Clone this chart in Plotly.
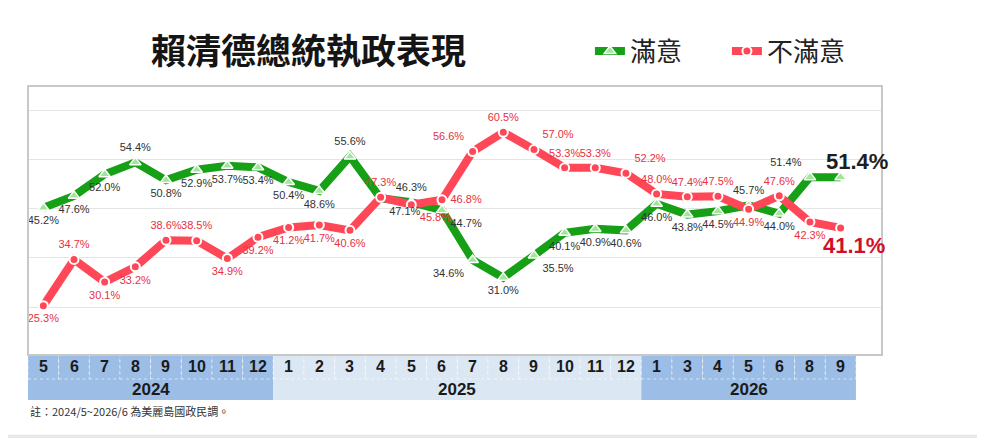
import itertools
import plotly.graph_objects as go

# ---------------- data ----------------
years = ["2024"] * 8 + ["2025"] * 12 + ["2026"] * 7
months = [5, 6, 7, 8, 9, 10, 11, 12,
          1, 2, 3, 4, 5, 6, 7, 8, 9, 10, 11, 12,
          1, 3, 4, 5, 6, 8, 9]
satisfied = [45.2, 47.6, 52.0, 54.4, 50.8, 52.9, 53.7, 53.4,
             50.4, 48.6, 55.6, 47.1, 46.3, 44.7, 34.6, 31.0, 35.5, 40.1, 40.9, 40.6,
             46.0, 43.8, 44.5, 45.7, 44.0, 51.4, 51.4]
dissatisfied = [25.3, 34.7, 30.1, 33.2, 38.6, 38.5, 34.9, 39.2,
                41.2, 41.7, 40.6, 47.3, 45.8, 46.8, 56.6, 60.5, 57.0, 53.3, 53.3, 52.2,
                48.0, 47.4, 47.5, 44.9, 47.6, 42.3, 41.1]
series_names = ["滿意", "不滿意"]
title_text = "賴清德總統執政表現"
footnote = "註：2024/5~2026/6 為美麗島國政民調。"

# ---------------- style ----------------
sat_pos = ["bottom center", "bottom center", "bottom center", "top center", "bottom center",
           "bottom center", "bottom center", "bottom center", "bottom center", "bottom center",
           "top center", "bottom right", "top center", "bottom right", "bottom left",
           "bottom center", "bottom right", "bottom center", "bottom center", "bottom center",
           "bottom center", "bottom center", "bottom center", "top center", "bottom center",
           "top left", "top right"]
dis_pos = ["bottom center", "top center", "bottom center", "bottom center", "top center",
           "top center", "bottom center", "bottom center", "bottom center", "bottom center",
           "bottom center", "top center", "bottom right", "middle right", "top left",
           "top center", "top right", "top center", "top center", "top right",
           "top center", "top center", "top center", "bottom center", "top center",
           "bottom center", "bottom right"]

GREEN = "#16a016"
RED = "#ff4757"
LABEL_FONT = "Liberation Sans Narrow, Arial Narrow, Liberation Sans, sans-serif"
CJK = "Noto Sans CJK TC, Noto Sans CJK SC, sans-serif"

n = len(months)
x = list(range(n))
last = n - 1


def labels(vals):
    # last point gets a big separate annotation
    return [f"{v:.1f}%" if i != last else "" for i, v in enumerate(vals)]


fig = go.Figure()
fig.add_trace(go.Scatter(
    x=x, y=satisfied, name=series_names[0], mode="lines+markers",
    line=dict(color=GREEN, width=8),
    marker=dict(symbol="triangle-up", size=10, color="#9fe59a",
                line=dict(color="white", width=1.5)),
    cliponaxis=False,
))
fig.add_trace(go.Scatter(
    x=x, y=dissatisfied, name=series_names[1], mode="lines+markers",
    line=dict(color=RED, width=8),
    marker=dict(symbol="circle", size=9, color=RED,
                line=dict(color="white", width=2)),
    cliponaxis=False,
))
# label layers on top of both lines (invisible markers give the text its offset)
fig.add_trace(go.Scatter(
    x=x, y=satisfied, mode="markers+text", showlegend=False, hoverinfo="skip",
    text=labels(satisfied), textposition=sat_pos,
    textfont=dict(family=LABEL_FONT, size=11, color="#333333"),
    marker=dict(size=12, color="rgba(0,0,0,0)"), cliponaxis=False,
))
fig.add_trace(go.Scatter(
    x=x, y=dissatisfied, mode="markers+text", showlegend=False, hoverinfo="skip",
    text=labels(dissatisfied), textposition=dis_pos,
    textfont=dict(family=LABEL_FONT, size=11, color="#e8303f"),
    marker=dict(size=12, color="rgba(0,0,0,0)"), cliponaxis=False,
))

# ---------------- table under the axis ----------------
Y_DOMAIN_BOTTOM = 0.1433
ROW_SPLIT = 0.0669
DARK = "#9bbde6"
LIGHT = "#dce7f4"
shapes = []
annotations = []

groups = []
start = 0
for yr, grp in itertools.groupby(years):
    cnt = len(list(grp))
    groups.append((yr, start, start + cnt - 1))
    start += cnt

for gi, (yr, s, e) in enumerate(groups):
    col = DARK if gi % 2 == 0 else LIGHT
    shapes.append(dict(type="rect", xref="x", yref="paper", x0=s - 0.5, x1=e + 0.5,
                       y0=0, y1=ROW_SPLIT, fillcolor=col, line=dict(width=0), layer="below"))
    annotations.append(dict(x=(s + e) / 2, y=ROW_SPLIT / 2, xref="x", yref="paper",
                            text=f"<b>{yr}</b>", showarrow=False,
                            xanchor="center", yanchor="middle",
                            font=dict(family=LABEL_FONT, size=17, color="#1a1a1a")))
    for i in range(s, e + 1):
        shapes.append(dict(type="rect", xref="x", yref="paper", x0=i - 0.5, x1=i + 0.5,
                           y0=ROW_SPLIT, y1=Y_DOMAIN_BOTTOM, fillcolor=col,
                           line=dict(color="white", width=0.6, dash="dot"), layer="below"))

for i, m in enumerate(months):
    annotations.append(dict(x=i, y=(ROW_SPLIT + Y_DOMAIN_BOTTOM) / 2, xref="x", yref="paper",
                            text=f"<b>{m}</b>", showarrow=False,
                            xanchor="center", yanchor="middle",
                            font=dict(family=LABEL_FONT, size=16, color="#1a1a1a")))

# big labels for the latest values
annotations.append(dict(x=last, y=satisfied[last], xref="x", yref="y",
                        text=f"<b>{satisfied[last]:.1f}%</b>", showarrow=False,
                        xanchor="center", yanchor="middle", xshift=16, yshift=16,
                        font=dict(family=LABEL_FONT, size=22, color="#1e1e1e")))
annotations.append(dict(x=last, y=dissatisfied[last], xref="x", yref="y",
                        text=f"<b>{dissatisfied[last]:.1f}%</b>", showarrow=False,
                        xanchor="center", yanchor="middle", xshift=13, yshift=-18,
                        font=dict(family=LABEL_FONT, size=22, color="#d0102a")))

# plot box border
shapes.append(dict(type="rect", xref="paper", yref="paper", x0=0, x1=1,
                   y0=Y_DOMAIN_BOTTOM, y1=1, line=dict(color="#c8c8c8", width=2),
                   fillcolor="rgba(0,0,0,0)", layer="above"))
# bottom gray strip of the image
shapes.append(dict(type="rect", xref="paper", yref="paper", x0=-0.03, x1=1.13,
                   y0=-0.111, y1=-0.125, fillcolor="#e8e8e8", line=dict(width=0)))

# title
annotations.append(dict(x=0.328, y=1.118, xref="paper", yref="paper", text=f"<b>{title_text}</b>",
                        showarrow=False, xanchor="center", yanchor="middle",
                        font=dict(family=CJK, size=35, color="#151515")))
# footnote
annotations.append(dict(x=0.0, y=-0.035, xref="paper", yref="paper", text=footnote,
                        showarrow=False, xanchor="left", yanchor="middle",
                        font=dict(family=CJK, size=11, color="#333333")))

# the page body adds an 8px offset, so the figure is 8px smaller than the window
fig.update_layout(
    width=977, height=430,
    margin=dict(l=20, r=103, t=78, b=38, autoexpand=False),
    paper_bgcolor="white", plot_bgcolor="white",
    showlegend=True,
    legend=dict(orientation="h", x=0.658, y=1.111, xanchor="left", yanchor="middle",
                font=dict(family=CJK, size=26, color="#222222"),
                bgcolor="rgba(0,0,0,0)", itemwidth=30, entrywidth=92,
                entrywidthmode="pixels"),
    xaxis=dict(range=[-0.5, 27.35], showticklabels=False, showgrid=False,
               zeroline=False, showline=False, fixedrange=True),
    yaxis=dict(domain=[Y_DOMAIN_BOTTOM, 1], range=[15.3, 69.9],
               tickvals=[25, 35, 45, 55, 65], showticklabels=False,
               showgrid=True, gridcolor="#e4e4e4", gridwidth=1,
               zeroline=False, showline=False, fixedrange=True),
    shapes=shapes,
    annotations=annotations,
)

fig.write_html("out.html")
